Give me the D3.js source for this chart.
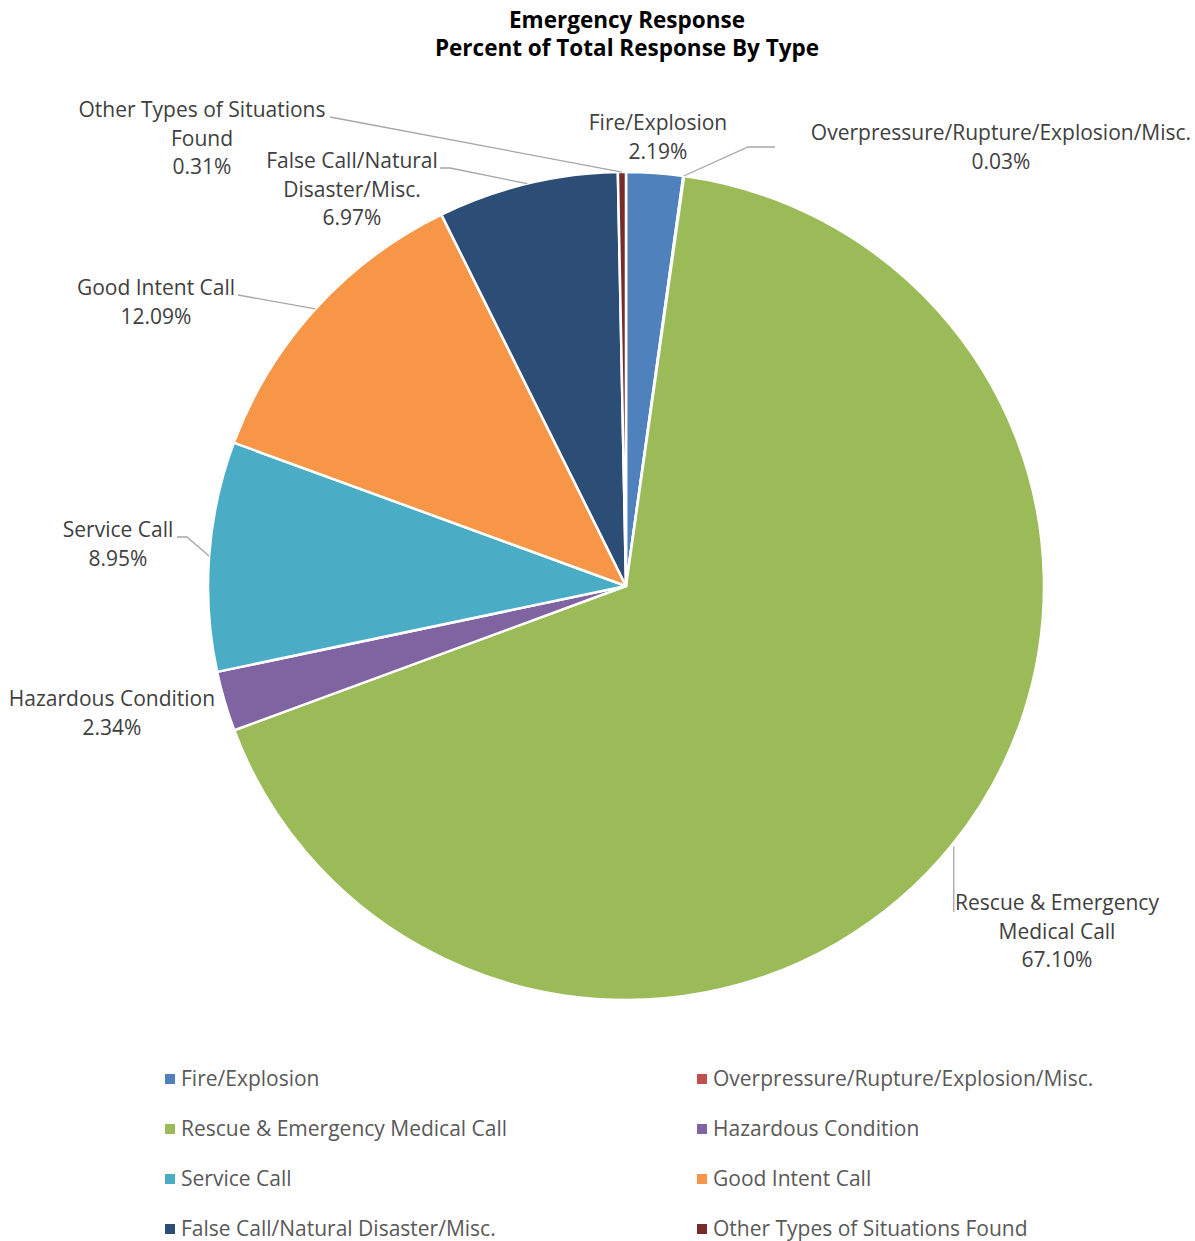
<!DOCTYPE html>
<html>
<head>
<meta charset="utf-8">
<script src="https://cdn.jsdelivr.net/npm/d3@7"></script>
<style>
  html, body { margin: 0; padding: 0; background: #fff; }
  svg { display: block; font-family: "Open Sans", "Noto Sans", sans-serif; }
</style>
</head>
<body>
<svg id="chart" width="1195" height="1241"></svg>
<script>
// Response categories, clockwise from 12 o'clock
const categories = [
  "Fire/Explosion",
  "Overpressure/Rupture/Explosion/Misc.",
  "Rescue & Emergency Medical Call",
  "Hazardous Condition",
  "Service Call",
  "Good Intent Call",
  "False Call/Natural Disaster/Misc.",
  "Other Types of Situations Found"
];
// Share of total responses, in percent
const percents = [2.19, 0.03, 67.10, 2.34, 8.95, 12.09, 6.97, 0.31];
const colors = ["#4F81BD", "#C0504D", "#9BBB59", "#8064A2", "#4BACC6", "#F79646", "#2C4D75", "#772C2A"];

// Wrapped text for the data labels
const labelLines = [
  ["Fire/Explosion"],
  ["Overpressure/Rupture/Explosion/Misc."],
  ["Rescue & Emergency", "Medical Call"],
  ["Hazardous Condition"],
  ["Service Call"],
  ["Good Intent Call"],
  ["False Call/Natural", "Disaster/Misc."],
  ["Other Types of Situations", "Found"]
];

// Label placement: centre x, centre y of first line, and leader-line elbow
const labelLayout = [
  { x: 658,  y: 123, leader: null },
  { x: 1001, y: 133, leader: [[748, 147], [775, 147]] },
  { x: 1057, y: 903, leader: "vertical" },
  { x: 112,  y: 699, leader: null },
  { x: 118,  y: 530, leader: [[187, 537], [177, 537]] },
  { x: 156,  y: 288, leader: [[238, 295]] },
  { x: 352,  y: 161, leader: [[450, 168], [440, 168]] },
  { x: 202,  y: 110, leader: [[330, 117]] }
];

const data = categories.map((c, i) => ({ name: c, value: percents[i], color: colors[i], lines: labelLines[i], layout: labelLayout[i] }));

const svg = d3.select("#chart");
const cx = 626, cy = 586, Rx = 418, Ry = 414;
const lineH = 28.5;

// Title, two lines
const titleLines = ["Emergency Response", "Percent of Total Response By Type"];
svg.append("g")
  .attr("text-anchor", "middle").attr("font-weight", "bold")
  .attr("font-size", 22.5).attr("fill", "#000")
  .selectAll("text")
  .data(titleLines)
  .join("text")
  .attr("x", 627)
  .attr("y", (d, i) => 28 + i * 28)
  .text(d => d);

// Pie (drawn at radius Ry and stretched slightly horizontally)
const pie = d3.pie().value(d => d.value).sort(null);
const arcs = pie(data);
const arc = d3.arc().innerRadius(0).outerRadius(Ry);

const g = svg.append("g").attr("transform", `translate(${cx},${cy}) scale(${Rx / Ry},1)`);
g.selectAll("path.slice")
  .data(arcs)
  .join("path")
  .attr("class", "slice")
  .attr("d", arc)
  .attr("fill", d => d.data.color)
  .attr("stroke", "#fff")
  .attr("stroke-width", 2.5)
  .attr("stroke-linejoin", "round");

// Leader lines from the slice edge midpoint to the label
const edgePoint = d => {
  const a = (d.startAngle + d.endAngle) / 2;
  return [cx + Rx * Math.sin(a), cy - Ry * Math.cos(a)];
};

const leaders = svg.append("g")
  .attr("fill", "none").attr("stroke", "#A6A6A6").attr("stroke-width", 1.3);

arcs.forEach(d => {
  const L = d.data.layout;
  if (!L.leader) return;
  const p = edgePoint(d);
  let pts;
  if (L.leader === "vertical") {
    pts = [[p[0] + 2, p[1] + 1], [p[0] + 2, L.y + 9]];
  } else {
    pts = [p, ...L.leader];
  }
  leaders.append("path").attr("d", d3.line()(pts));
});

// Data labels
const labels = svg.append("g")
  .attr("font-size", 21).attr("fill", "#404040").attr("text-anchor", "middle");

arcs.forEach(d => {
  const L = d.data.layout;
  const t = labels.append("text");
  const lines = [...d.data.lines, d3.format(".2f")(d.data.value) + "%"];
  lines.forEach((s, i) => {
    t.append("tspan")
      .attr("x", L.x)
      .attr("y", L.y + i * lineH)
      .attr("dy", "0.35em")
      .text(s);
  });
});

// Legend, two columns
const legend = svg.append("g").attr("font-size", 21).attr("fill", "#595959");
const colX = [165, 697], rowY0 = 1079, rowH = 50;
data.forEach((d, i) => {
  const x = colX[i % 2], y = rowY0 + Math.floor(i / 2) * rowH;
  legend.append("rect")
    .attr("x", x).attr("y", y - 5).attr("width", 10).attr("height", 10)
    .attr("fill", d.color);
  legend.append("text")
    .attr("x", x + 16).attr("y", y).attr("dy", "0.35em")
    .text(d.name);
});
</script>
</body>
</html>
